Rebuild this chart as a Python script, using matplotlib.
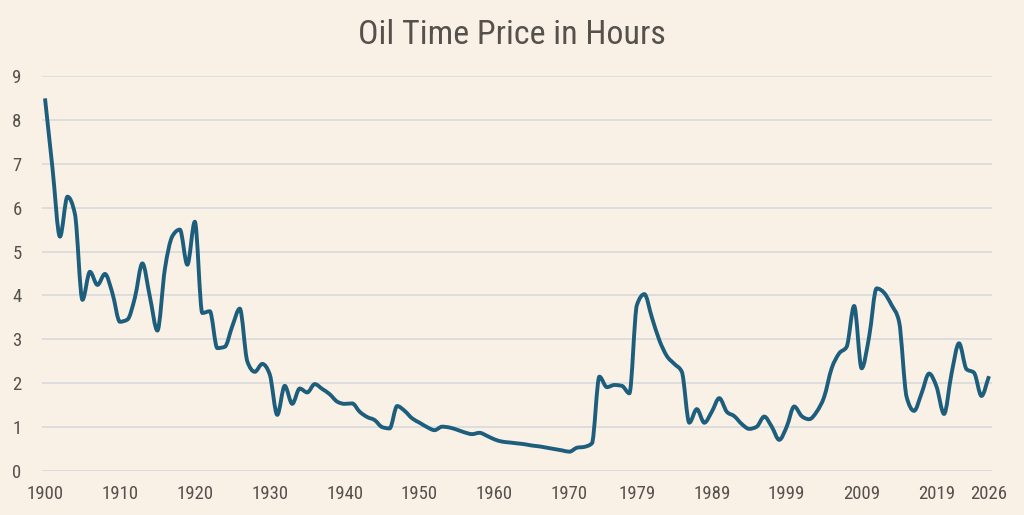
import matplotlib
matplotlib.use('Agg')
import matplotlib.pyplot as plt
from matplotlib.path import Path
from matplotlib.patches import PathPatch
import numpy as np

# yearly values, 1900..2026
years = np.arange(1900, 2027)
hours = [
    8.49, 6.90, 5.34, 6.25, 5.85, 3.90, 4.54, 4.24, 4.49, 4.05,   # 1900s
    3.40, 3.45, 3.95, 4.73, 3.97, 3.20, 4.60, 5.35, 5.50, 4.70,   # 1910s
    5.68, 3.60, 3.64, 2.80, 2.83, 3.30, 3.70, 2.50, 2.26, 2.44,   # 1920s
    2.20, 1.28, 1.94, 1.53, 1.88, 1.79, 1.98, 1.87, 1.75, 1.58,   # 1930s
    1.53, 1.54, 1.35, 1.23, 1.16, 1.00, 0.97, 1.48, 1.37, 1.20,   # 1940s
    1.10, 1.00, 0.93, 1.01, 0.99, 0.94, 0.88, 0.84, 0.87, 0.80,   # 1950s
    0.72, 0.67, 0.65, 0.63, 0.61, 0.58, 0.56, 0.53, 0.50, 0.47,   # 1960s
    0.44, 0.53, 0.55, 0.63, 2.15, 1.91, 1.96, 1.94, 1.77, 3.78,   # 1970s
    4.03, 3.50, 2.98, 2.62, 2.44, 2.26, 1.10, 1.41, 1.10, 1.35,   # 1980s
    1.66, 1.35, 1.25, 1.07, 0.96, 1.01, 1.24, 1.01, 0.71, 1.01,   # 1990s
    1.47, 1.25, 1.18, 1.35, 1.69, 2.34, 2.68, 2.83, 3.76, 2.34,   # 2000s
    3.06, 4.16, 4.06, 3.78, 3.40, 1.69, 1.37, 1.77, 2.22, 1.92,   # 2010s
    1.30, 2.22, 2.91, 2.32, 2.24, 1.71, 2.16,                     # 2020s
]

xticks = [1900, 1910, 1920, 1930, 1940, 1950, 1960, 1970, 1979, 1989, 1999, 2009, 2019, 2026]
yticks = list(range(0, 10))

bg = '#faf1e6'
txt = '#55514d'
plt.rcParams['font.family'] = ['Roboto Condensed', 'DejaVu Sans']
plt.rcParams['font.stretch'] = 'condensed'


def monotone_path(x, y):
    # monotone cubic (like d3 curveMonotoneX) as bezier segments
    x = np.asarray(x, float)
    y = np.asarray(y, float)
    h = np.diff(x)
    s = np.diff(y) / h
    m = np.zeros_like(y)
    for i in range(1, len(y) - 1):
        if s[i - 1] * s[i] > 0:
            p = (s[i - 1] * h[i] + s[i] * h[i - 1]) / (h[i - 1] + h[i])
            m[i] = (np.sign(s[i - 1]) + np.sign(s[i])) * min(abs(s[i - 1]), abs(s[i]), 0.5 * abs(p))
    m[0] = s[0]
    m[-1] = s[-1]
    verts = [(x[0], y[0])]
    codes = [Path.MOVETO]
    for i in range(len(x) - 1):
        d = h[i] / 3
        verts += [(x[i] + d, y[i] + m[i] * d), (x[i + 1] - d, y[i + 1] - m[i + 1] * d), (x[i + 1], y[i + 1])]
        codes += [Path.CURVE4] * 3
    return Path(verts, codes)


fig = plt.figure(figsize=(10.24, 5.15), dpi=100, facecolor=bg)
ax = fig.add_axes([42 / 1024, 1 - 471 / 515, 950 / 1024, 395 / 515])
ax.set_facecolor(bg)

ax.add_patch(PathPatch(monotone_path(years, hours), facecolor='none', edgecolor='#1d5e7d',
                       lw=2.8, joinstyle='round', capstyle='butt', clip_on=False, zorder=3))

ax.set_xlim(1899.6, 2026.4)
ax.set_ylim(0, 9)
ax.set_yticks(yticks)
ax.set_xticks(xticks)
ax.grid(axis='y', color='#d9d9dc', lw=1.2)
ax.set_axisbelow(True)
for s in ax.spines.values():
    s.set_visible(False)
ax.tick_params(length=0, labelsize=13.5, colors=txt, pad=10)
ax.tick_params(axis='y', pad=18)
for lab in ax.get_yticklabels():
    lab.set_horizontalalignment('center')

fig.text(0.5, 1 - 35 / 515, 'Oil Time Price in Hours', ha='center', va='center',
         fontsize=24.5, color=txt)

fig.savefig('out.png', dpi=100, facecolor=bg)
